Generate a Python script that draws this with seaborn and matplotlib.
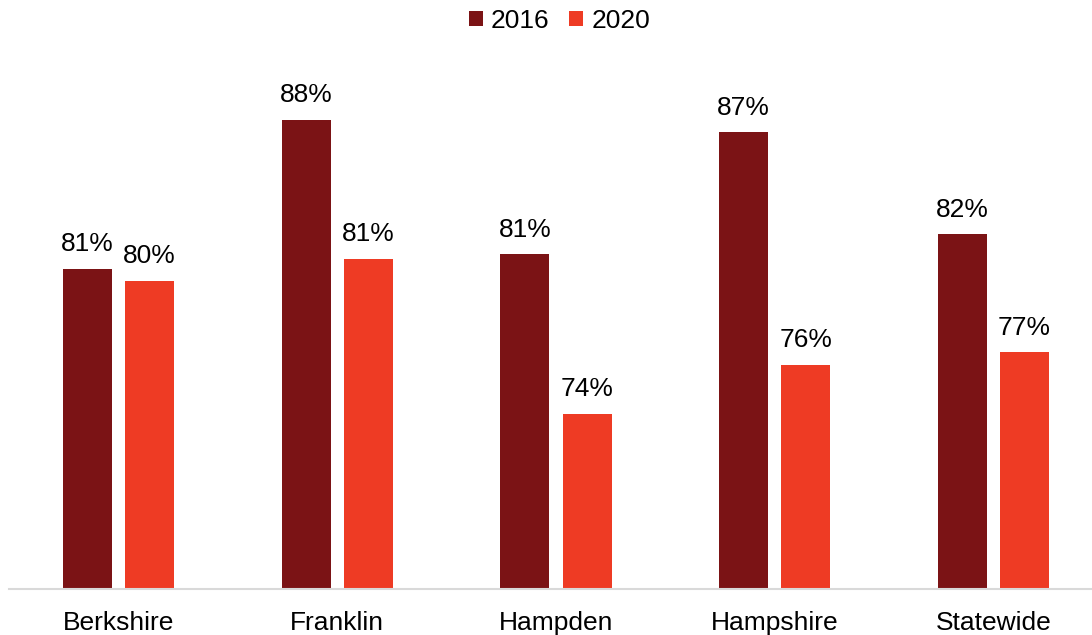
import matplotlib
matplotlib.use("Agg")
import matplotlib.pyplot as plt
import seaborn as sns
import pandas as pd
from matplotlib.patches import Patch

regions = ["Berkshire", "Franklin", "Hampden", "Hampshire", "Statewide"]
years = ["2016", "2020"]
values_2016 = [80.7, 88.0, 81.4, 87.4, 82.4]
values_2020 = [80.1, 81.2, 73.6, 76.0, 76.6]
colors = ["#7B1315", "#EE3B24"]

df = pd.DataFrame({
    "region": regions * 2,
    "year": [years[0]] * len(regions) + [years[1]] * len(regions),
    "value": values_2016 + values_2020,
})

sns.set_theme(style="white")
plt.rcParams["font.family"] = ["Liberation Sans", "DejaVu Sans"]
plt.rcParams["text.color"] = "black"

W, H = 1092, 635
fig = plt.figure(figsize=(W / 100, H / 100), dpi=100)
ax = fig.add_axes([9 / W, (H - 589) / H, 1094 / W, (589 - 79) / H])

sns.barplot(data=df, x="region", y="value", hue="year", palette=colors,
            width=0.567, gap=0.21, ax=ax, legend=False, saturation=1,
            linewidth=0)

ax.set_xlim(-0.5, 4.5)
ax.set_ylim(65, 90)
ax.set_xlabel("")
ax.set_ylabel("")
ax.set_yticks([])
for s in ["top", "right", "left"]:
    ax.spines[s].set_visible(False)
ax.spines["bottom"].set_color("#D9D9D9")
ax.spines["bottom"].set_linewidth(1.5)
ax.tick_params(axis="x", length=0, pad=16, labelsize=19, colors="black")

for cont in ax.containers:
    labels = [f"{round(v):.0f}%" for v in cont.datavalues]
    ax.bar_label(cont, labels=labels, padding=9, fontsize=19, color="black")

handles = [Patch(facecolor=c, edgecolor="none") for c in colors]
leg = fig.legend(handles, years, loc="center", bbox_to_anchor=(559.5 / W, 1 - 21 / H),
                 ncol=2, frameon=False, fontsize=19, handlelength=0.53,
                 handleheight=0.53, handletextpad=0.3, columnspacing=0.76)
for t in leg.get_texts():
    t.set_color("black")

fig.savefig("out.png", dpi=100)
